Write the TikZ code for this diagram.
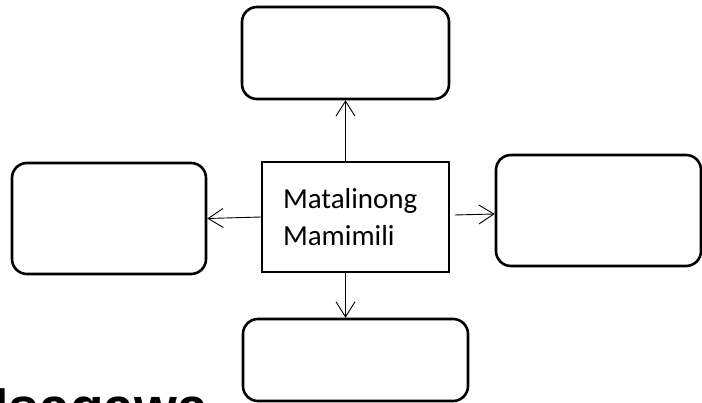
\documentclass[tikz,border=0pt]{standalone}
\usepackage{fontspec}
\setmainfont{Carlito}
\newfontfamily\headfont{Liberation Sans}
\usetikzlibrary{arrows.meta}

\tikzset{
    blankbox/.style={draw, line width=2.6pt, rounded corners=15pt},
    mainbox/.style={draw, line width=1.5pt, text width=145pt, align=left, font=\fontsize{29}{37}\selectfont},
    link/.style={line width=0.9pt, -{Straight Barb[length=15pt,width=19pt]}}
}

\begin{document}
\begin{tikzpicture}[x=1pt, y=-1pt]
    % page = the 702 x 403 crop of the worksheet
    \useasboundingbox (0,0) rectangle (702,403);
    \clip (0,0) rectangle (702,403);
    \fill[white] (0,0) rectangle (702,403);

    \node[mainbox, minimum width=187pt, minimum height=110pt] (mid) at (355.5,217) {Matalinong\\Mamimili};
    % the four empty boxes round it
    \node[blankbox, minimum width=207pt, minimum height=92pt] (up) at (345.5,53) {};
    \node[blankbox, minimum width=194pt, minimum height=111pt] (left) at (109,218.5) {};
    \node[blankbox, minimum width=205pt, minimum height=111pt] (right) at (598.5,210.5) {};
    \node[blankbox, minimum width=225pt, minimum height=82pt] (down) at (355.5,360) {};

    \draw[link] (mid.north -| up.south) -- (up.south);
    \draw[link] (mid.south -| up.south) -- (down.north -| up.south);
    \draw[link] (mid.west) -- (left.east);
    \draw[link] ([xshift=5pt, yshift=2pt]mid.east) -- ([yshift=-3.5pt]right.west);

    % heading of the next part, cut by the page edge
    \node[anchor=base west, inner sep=0pt, font=\headfont\bfseries\fontsize{55}{60}\selectfont] (next) at (-6.5,427) {Isagawa};
\end{tikzpicture}
\end{document}
